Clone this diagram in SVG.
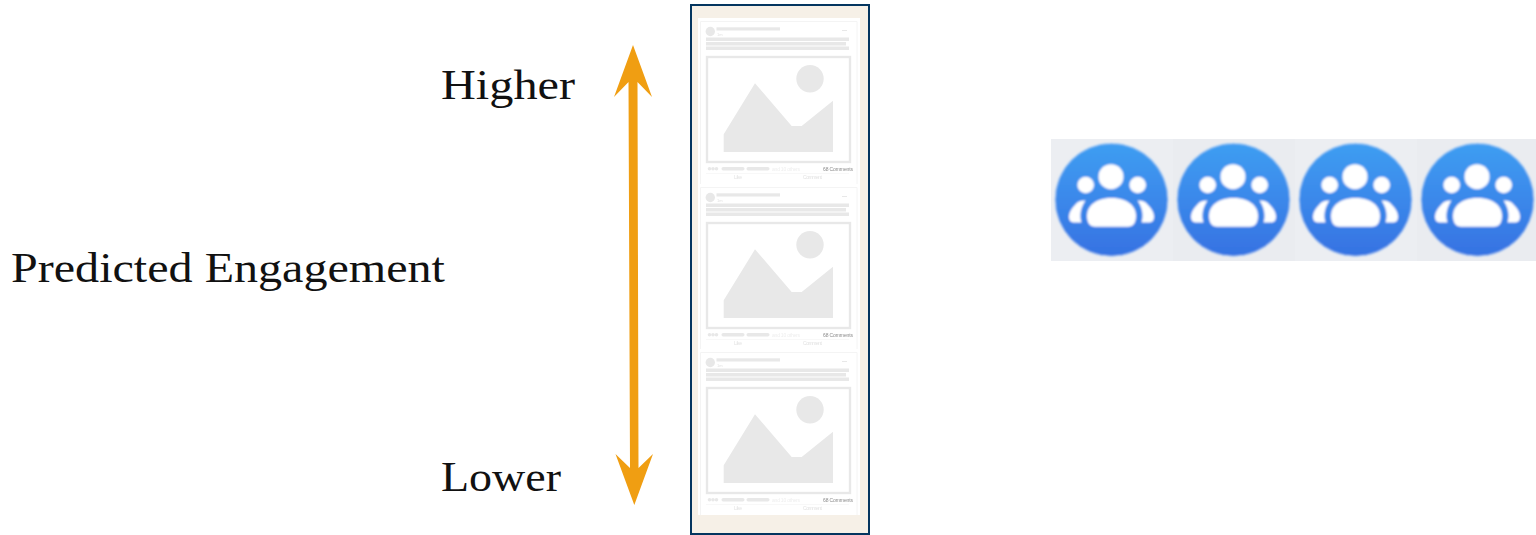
<svg xmlns="http://www.w3.org/2000/svg" width="1536" height="535" viewBox="0 0 1536 535">
<style>
.lbl{font-family:"Liberation Serif","DejaVu Serif",serif;fill:#111;font-size:43px}
.g{fill:#e8e8e8}
.t{font-family:"Liberation Sans",Arial,sans-serif;font-size:5px;fill:#e2e2e2}
.arrow{fill:#f09e12}
.white{fill:#fff}
.tile{fill:#eceef2}
</style>
<defs>
<linearGradient id="blue" x1="0" y1="0" x2="0" y2="1"><stop offset="0" stop-color="#3f9ef2"/><stop offset="1" stop-color="#3672e2"/></linearGradient>
<filter id="soft" x="-5%" y="-5%" width="110%" height="110%"><feGaussianBlur stdDeviation="0.8"/></filter>
<filter id="softer" x="-3%" y="-3%" width="106%" height="106%"><feGaussianBlur stdDeviation="0.5"/></filter>
<g id="card">
<rect x="698" y="18" width="162" height="166" fill="#fff"/>
<path d="M700.500 184V21.500H857V184" fill="none" stroke="#f4f4f4"/>
<circle class="g" cx="710.300" cy="31.500" r="4.700"/>
<rect class="g" x="716.500" y="27.300" width="63.500" height="3.200"/>
<text class="t" x="717" y="36" style="font-size:4px">1m</text>
<rect class="g" x="842" y="30" width="5" height="1"/>
<rect class="g" x="706" y="37.500" width="143" height="3.500"/>
<rect class="g" x="706" y="42" width="140" height="3.500"/>
<rect class="g" x="706" y="46.500" width="143" height="3.500"/>
<rect x="707" y="57" width="143" height="105" fill="#fff" stroke="#e8e8e8" stroke-width="2.400"/>
<polygon class="g" points="723.700,152 723.700,134.300 755,83.300 791.700,126 801.700,126 833,100.700 833,152"/>
<circle class="g" cx="810" cy="78.700" r="13.700"/>
<circle class="g" cx="709.500" cy="168.700" r="1.800"/><circle class="g" cx="713" cy="168.700" r="1.800"/><circle class="g" cx="716.500" cy="168.700" r="1.800"/>
<rect class="g" x="721.500" y="167" width="23" height="3.400" rx="1.600"/>
<rect class="g" x="746.500" y="167" width="23" height="3.400" rx="1.600"/>
<text class="t" x="772" y="170.500" textLength="28" style="fill:#eeeeee">and 10 others</text>
<text class="t" x="823" y="170.500" textLength="30" style="fill:#8a8a8a">68 Comments</text>
<rect x="706" y="173" width="143" height="0.600" fill="#f4f4f4"/>
<text class="t" x="734" y="179" textLength="8">Like</text>
<text class="t" x="803" y="179" textLength="19">Comment</text>
</g>
<g id="icon">
<circle cx="1111.500" cy="199.700" r="56.500" fill="url(#blue)" stroke="#bcd8f6" stroke-width="0.800"/>
<g class="white">
<circle cx="1111" cy="176.700" r="12.500"/>
<circle cx="1085.700" cy="185" r="8.300"/>
<circle cx="1137.700" cy="185" r="8.300"/>
<path d="M1087 216C1087 205 1097 198 1111.500 198C1126 198 1136 205 1136 216C1136 223 1133 226.700 1128 226.700H1095C1090 226.700 1087 223 1087 216Z"/>
<path d="M1085.500 200.500C1082 200.500 1078 201 1075 205C1071 209 1069 213 1069 216.500C1069 221 1071 222.500 1075 222.500H1081.500C1079 215 1081 207 1085.500 200.500Z"/>
<path d="M1137.500 200.500C1141 200.500 1145 201 1148 205C1152 209 1154 213 1154 216.500C1154 221 1152 222.500 1148 222.500H1141.500C1144 215 1142 207 1137.500 200.500Z"/>
</g>
</g>
</defs>

<g id="predicted-engagement"><text class="lbl" x="11" y="282" textLength="434" lengthAdjust="spacingAndGlyphs">Predicted Engagement</text></g>
<g id="higher"><text class="lbl" x="441" y="99" textLength="134" lengthAdjust="spacingAndGlyphs">Higher</text></g>
<g id="lower"><text class="lbl" x="441" y="491" textLength="120" lengthAdjust="spacingAndGlyphs">Lower</text></g>

<g id="connectors">
<polygon class="arrow" points="633,45 652,97 637.500,82 638.500,468 653,454 634.300,505 615.500,454 630,468 628.500,82 614,97"/>
</g>

<g id="feed">
<rect x="691" y="5" width="178" height="529" fill="#f6f0e7" stroke="#04355f" stroke-width="2"/>
<g id="post-1" filter="url(#softer)"><use href="#card"/></g>
<g id="post-2" filter="url(#softer)"><use href="#card" y="166"/></g>
<g id="post-3" filter="url(#softer)"><use href="#card" y="331"/></g>
</g>

<g id="audience">
<rect class="tile" x="1051" y="139" width="122" height="122"/>
<rect x="1173" y="139" width="122" height="122" fill="#eaecf0"/>
<rect class="tile" x="1295" y="139" width="122" height="122"/>
<rect x="1417" y="139" width="119" height="122" fill="#eaecf0"/>
<g id="user-1" filter="url(#soft)"><use href="#icon"/></g>
<g id="user-2" filter="url(#soft)"><use href="#icon" x="122"/></g>
<g id="user-3" filter="url(#soft)"><use href="#icon" x="244"/></g>
<g id="user-4" filter="url(#soft)"><use href="#icon" x="366"/></g>
</g>
</svg>
